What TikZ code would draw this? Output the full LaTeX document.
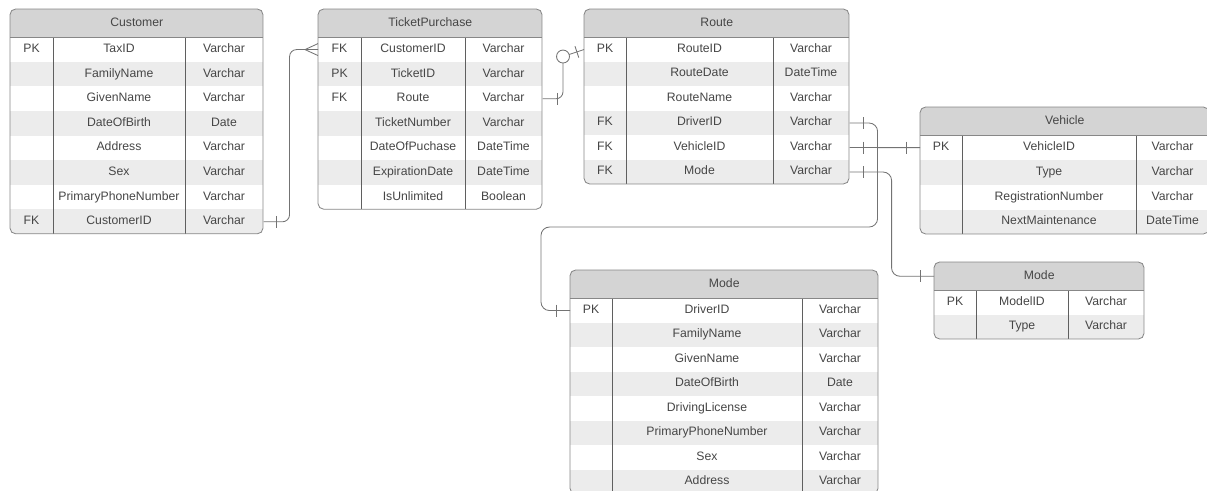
\documentclass[tikz,border=0pt]{standalone}
\usepackage{fontspec}
\setmainfont{Liberation Sans}
\usetikzlibrary{calc}

\definecolor{headgray}{RGB}{212,212,212}
\definecolor{rowgray}{RGB}{236,236,236}
\definecolor{framegray}{RGB}{135,135,135}
\definecolor{colgray}{RGB}{95,95,95}
\definecolor{textgray}{RGB}{70,70,70}
\definecolor{linkgray}{RGB}{115,115,115}

% #1 name, #2 left, #3 top, #4 #5 column lines, #6 right, #7 row height, #8 title, #9 rows
\newcommand{\erentity}[9]{%
  \foreach \r [count=\n] in {#9} {\xdef\nrows{\n}}
  \pgfmathsetmacro\hb{#3+28}
  \pgfmathsetmacro\tb{\hb+\nrows*#7}
  \begin{scope}
    \clip[rounded corners=4] (#2,#3) rectangle (#6,\tb);
    \node[erhead, minimum width={(#6-#2)*0.025cm}, anchor=north west] (#1) at (#2,#3) {#8};
    \foreach \k/\f/\t [count=\i] in {#9} {
      \pgfmathsetmacro\ry{\hb+(\i-1)*#7}
      \ifodd\i\relax\def\rf{white}\else\def\rf{rowgray}\fi
      \node[errow, fill=\rf, minimum width={(#6-#2)*0.025cm}, minimum height={#7*0.025cm}, anchor=north west] (#1-\i) at (#2,\ry) {};
      \node[ertext] (#1-\i-k) at ({(#2+#4)/2},{\ry+#7/2}) {\k};
      \node[ertext] (#1-\i-f) at ({(#4+#5)/2},{\ry+#7/2}) {\f};
      \node[ertext] (#1-\i-t) at ({(#5+#6)/2},{\ry+#7/2}) {\t};
    }
  \end{scope}
  \draw[ercol] (#4,\hb) -- (#4,\tb) (#5,\hb) -- (#5,\tb);
  \draw[erframe] (#2,\hb) -- (#6,\hb);
  \draw[erframe, rounded corners=4] (#2,#3) rectangle (#6,\tb);
}
\newcommand{\erbar}[2]{\draw[erlink] ($(#1)+(#2,-6)$) -- ($(#1)+(#2,6)$);}

\begin{document}
\begin{tikzpicture}
  [x=0.025cm, y=-0.025cm,
   ertext/.style={inner sep=0pt, text=textgray, text height=6.4pt, text depth=1.8pt,
                  font=\fontsize{8.7}{10}\selectfont},
   erhead/.style={ertext, fill=headgray, minimum height={28*0.025cm}},
   errow/.style={inner sep=0pt},
   ercol/.style={draw=colgray, line width=0.5pt},
   erframe/.style={draw=framegray, line width=0.6pt},
   erlink/.style={draw=linkgray, line width=0.6pt}]
  \useasboundingbox (0,0) rectangle (1207,491);

  \erentity{cust}{10}{9}{53}{185}{263}{24.6}{Customer}
    {PK/TaxID/Varchar, /FamilyName/Varchar, /GivenName/Varchar, /DateOfBirth/Date,
     /Address/Varchar, /Sex/Varchar, /PrimaryPhoneNumber/Varchar, FK/CustomerID/Varchar}
  \erentity{tick}{318}{9}{361}{465}{542}{24.6}{TicketPurchase}
    {FK/CustomerID/Varchar, PK/TicketID/Varchar, FK/Route/Varchar, /TicketNumber/Varchar,
     /DateOfPuchase/DateTime, /ExpirationDate/DateTime, /IsUnlimited/Boolean}
  \erentity{route}{584}{9}{626}{773}{849}{24.5}{Route}
    {PK/RouteID/Varchar, /RouteDate/DateTime, /RouteName/Varchar, FK/DriverID/Varchar,
     FK/VehicleID/Varchar, FK/Mode/Varchar}
  \erentity{veh}{920}{107}{962}{1136}{1209}{24.75}{Vehicle}
    {PK/VehicleID/Varchar, /Type/Varchar, /RegistrationNumber/Varchar, /NextMaintenance/DateTime}
  \erentity{mode}{934}{262}{976}{1068}{1144}{24.5}{Mode}
    {PK/ModelID/Varchar, /Type/Varchar}
  \erentity{drv}{570}{270}{612}{802}{878}{24.5}{Mode}
    {PK/DriverID/Varchar, /FamilyName/Varchar, /GivenName/Varchar, /DateOfBirth/Date,
     /DrivingLicense/Varchar, /PrimaryPhoneNumber/Varchar, /Sex/Varchar, /Address/Varchar}

  \draw[erlink, rounded corners=5] (cust-8.east) -- ++(26,0) |- (tick-1.west);
  \erbar{cust-8.east}{13}
  \draw[erlink] ($(tick-1.west)+(-13,0)$) -- ($(tick-1.west)+(0,-6)$)
                ($(tick-1.west)+(-13,0)$) -- ($(tick-1.west)+(0,6)$);

  \coordinate (ring) at ($(route-1.west)+(-21,7)$);
  \draw[erlink, rounded corners=5] (tick-3.east) -| ($(ring)+(0,6.5)$);
  \draw[erlink] (route-1.west) -- (ring);
  \draw[erlink, fill=white] (ring) circle (0.162cm);
  \draw[erlink] ($(route-1.west)+(-5.2,8.1)$) -- ($(route-1.west)+(-9,-3.3)$);
  \erbar{tick-3.east}{15}

  \draw[erlink, rounded corners=6] (route-4.east) -- ++(28,0) -- ++(0,104)
    -| ($(drv-1.west)+(-29,0)$) -- (drv-1.west);
  \erbar{route-4.east}{14}
  \erbar{drv-1.west}{-14}

  \draw[erlink] (route-5.east) -- (veh-1.west);
  \erbar{route-5.east}{14}
  \erbar{veh-1.west}{-14}

  \draw[erlink, rounded corners=6] (route-6.east) -- ++(42,0) |- (mode.west);
  \erbar{route-6.east}{14}
  \erbar{mode.west}{-14}
\end{tikzpicture}
\end{document}
